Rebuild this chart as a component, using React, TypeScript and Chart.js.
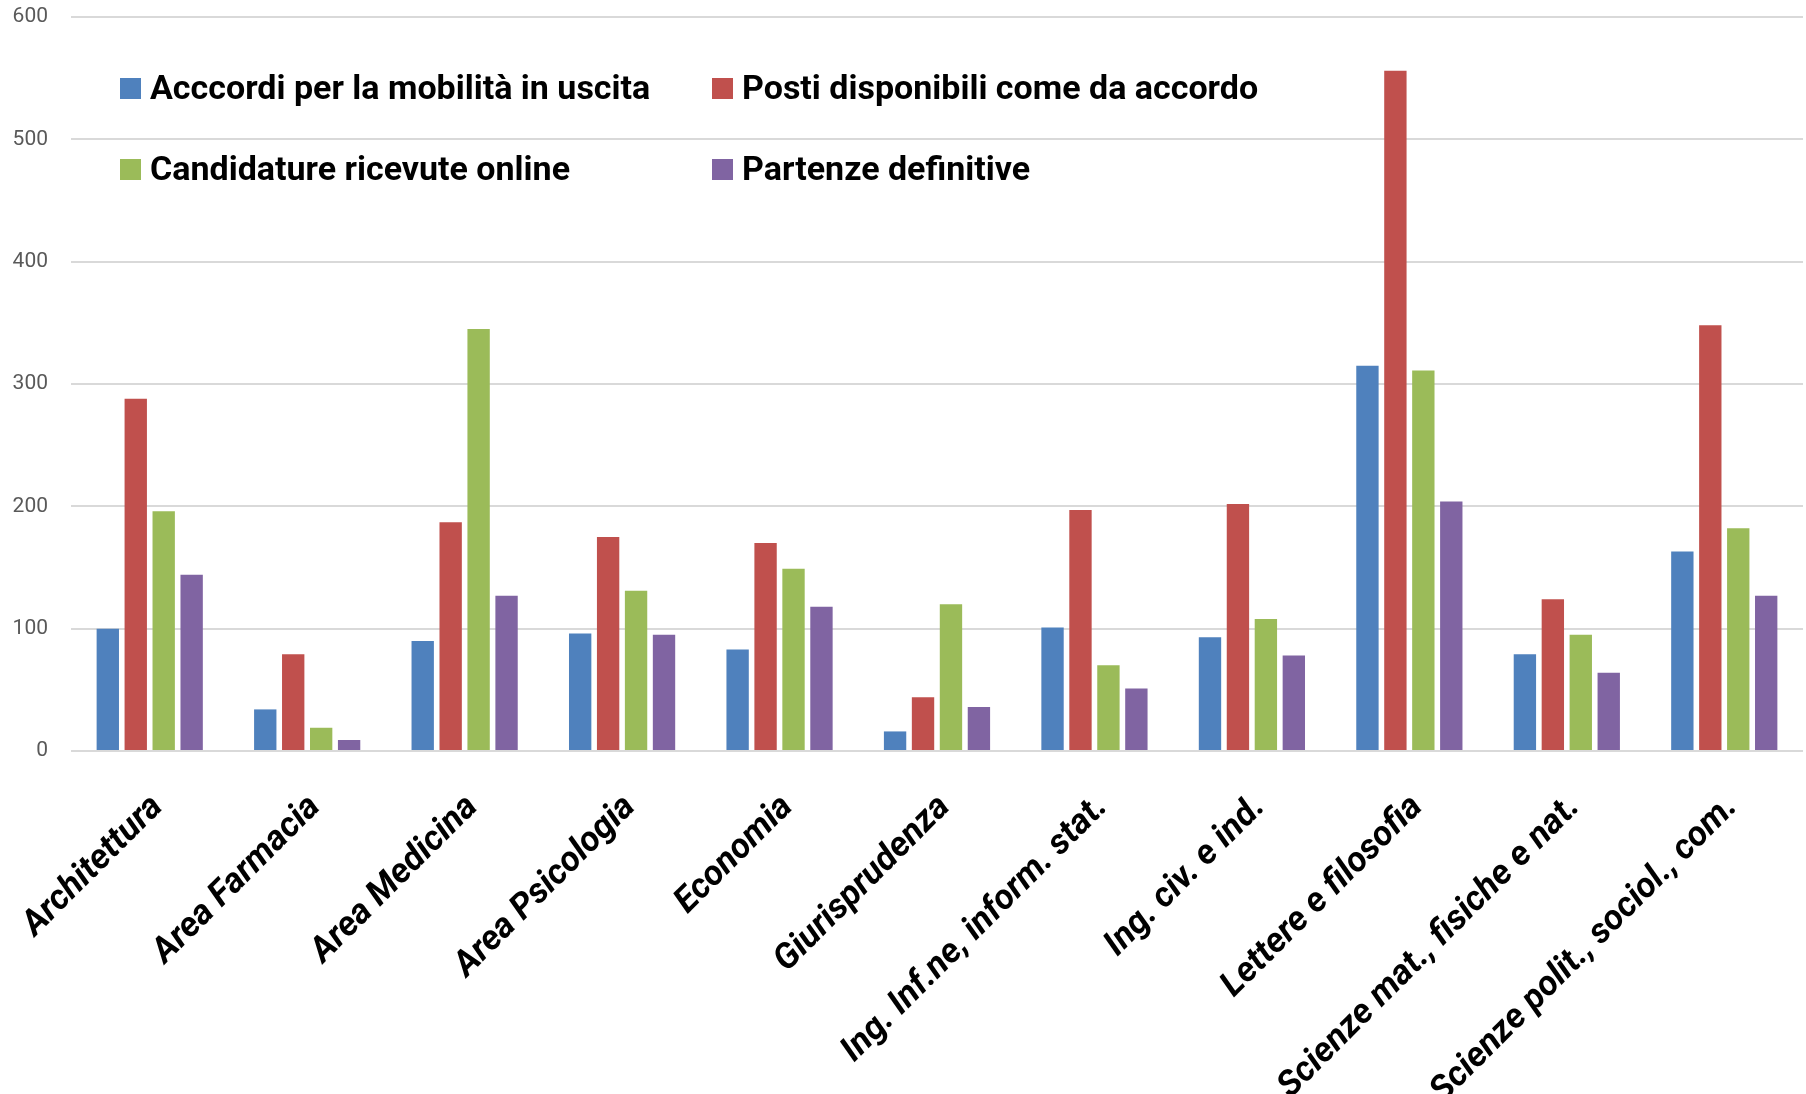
import React, { useEffect, useRef } from "react";
import { Chart, registerables } from "chart.js";

Chart.register(...registerables);

const categories = [
  "Architettura",
  "Area Farmacia",
  "Area Medicina",
  "Area Psicologia",
  "Economia",
  "Giurisprudenza",
  "Ing. Inf.ne, inform. stat.",
  "Ing. civ. e ind.",
  "Lettere e filosofia",
  "Scienze mat., fisiche e nat.",
  "Scienze polit., sociol., com.",
];

const seriesNames = [
  "Acccordi per la mobilità in uscita",
  "Posti disponibili come da accordo",
  "Candidature ricevute online",
  "Partenze definitive",
];

const accordi = [100, 34, 90, 96, 83, 16, 101, 93, 315, 79, 163];
const posti = [288, 79, 187, 175, 170, 44, 197, 202, 556, 124, 348];
const candidature = [196, 19, 345, 131, 149, 120, 70, 108, 311, 95, 182];
const partenze = [144, 9, 127, 95, 118, 36, 51, 78, 204, 64, 127];

const colors = ["#4F81BD", "#C0504D", "#9BBB59", "#8064A2"];

const yMin = 0;
const yMax = 600;
const yStep = 100;

const legendPlugin = {
  id: "gridLegend",
  afterDraw(chart: any) {
    const { ctx, chartArea } = chart;
    const ds = chart.data.datasets;
    const colX = [chartArea.left + 49, chartArea.left + 641];
    const rowBase = [chartArea.top + 82, chartArea.top + 163];
    ctx.save();
    ctx.font = "bold 34px Roboto";
    ctx.textBaseline = "alphabetic";
    ctx.textAlign = "left";
    ds.forEach((d: any, i: number) => {
      const col = i % 2;
      const row = Math.floor(i / 2);
      const x = colX[col];
      const base = rowBase[row];
      ctx.fillStyle = d.backgroundColor;
      ctx.fillRect(x, base - 21, 21, 21);
      ctx.fillStyle = "#000000";
      ctx.fillText(d.label, x + 30, base);
    });
    ctx.restore();
  },
};

export default function App() {
  const canvasRef = useRef<HTMLCanvasElement | null>(null);

  useEffect(() => {
    const canvas = canvasRef.current;
    if (!canvas) return;
    const seriesValues = [accordi, posti, candidature, partenze];
    const chart = new Chart(canvas, {
      type: "bar",
      data: {
        labels: categories,
        datasets: seriesNames.map((name, i) => ({
          label: name,
          data: seriesValues[i],
          backgroundColor: colors[i],
          borderWidth: 0,
          barPercentage: 0.8,
          categoryPercentage: 0.71,
        })),
      },
      options: {
        responsive: false,
        animation: false,
        devicePixelRatio: 1,
        layout: { padding: { top: 17, right: 3, left: 0, bottom: 0 } },
        plugins: {
          legend: { display: false },
          tooltip: { enabled: false },
        },
        scales: {
          x: {
            grid: { display: false },
            border: { display: false },
            ticks: {
              autoSkip: false,
              minRotation: 45,
              maxRotation: 45,
              padding: 28,
              labelOffset: 8,
              color: "#000000",
              font: { family: "Roboto", size: 35, weight: "bold", style: "italic" },
            },
            afterFit: (scale: any) => {
              scale.height = 343;
              scale.paddingLeft = 0;
              scale.paddingRight = 0;
            },
          },
          y: {
            min: yMin,
            max: yMax,
            border: { display: false },
            grid: { color: "#D9D9D9", lineWidth: 2, drawTicks: false },
            ticks: {
              stepSize: yStep,
              padding: 23,
              color: "#595959",
              font: { family: "Roboto", size: 21 },
            },
            afterFit: (scale: any) => {
              scale.width = 71;
              scale.paddingTop = 0;
              scale.paddingBottom = 0;
            },
          },
        },
      },
      plugins: [legendPlugin],
    });
    return () => chart.destroy();
  }, []);

  return (
    <div
      style={{
        position: "absolute",
        left: 0,
        top: 0,
        width: 1806,
        height: 1094,
        background: "#ffffff",
      }}
    >
      <canvas
        ref={canvasRef}
        width={1806}
        height={1094}
        style={{ width: 1806, height: 1094, display: "block" }}
      />
    </div>
  );
}
